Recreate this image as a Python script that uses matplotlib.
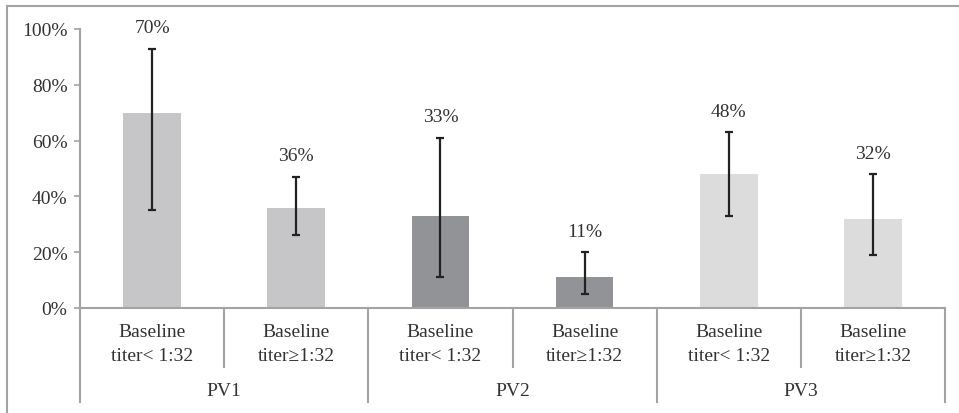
import matplotlib.pyplot as plt
from matplotlib.lines import Line2D
import matplotlib.transforms as mtransforms

plt.rcParams['font.family'] = ['Liberation Serif', 'DejaVu Serif']

# 数据
groups = ['PV1', 'PV2', 'PV3']
subgroups = ['Baseline\ntiter< 1:32', 'Baseline\ntiter≥1:32']
values = [70, 36, 33, 11, 48, 32]
err_low = [35, 26, 11, 5, 33, 19]
err_high = [93, 47, 61, 20, 63, 48]
group_colors = ['#c6c6c8', '#929396', '#dcdcdd']

text_color = '#333333'
line_color = '#a3a3a3'

fig = plt.figure(figsize=(9.59, 4.14), dpi=100)
ax = fig.add_axes([80 / 959, 105 / 414, 865 / 959, 279 / 414])

x = list(range(len(values)))
colors = [group_colors[i // 2] for i in x]
yerr = [[v - lo for v, lo in zip(values, err_low)],
        [hi - v for v, hi in zip(values, err_high)]]

ax.bar(x, values, width=0.4, color=colors, zorder=2)
ax.errorbar(x, values, yerr=yerr, fmt='none', ecolor='#222222',
            elinewidth=1.6, capsize=3, capthick=1.6, zorder=3)

# 数值标签
for xi, v, hi in zip(x, values, err_high):
    ax.annotate(f'{v}%', (xi, hi), xytext=(0, 9), textcoords='offset points',
                ha='center', va='bottom', fontsize=14, color=text_color)

ax.set_xlim(-0.5, len(values) - 0.5)
ax.set_ylim(0, 100)
ax.set_yticks([0, 20, 40, 60, 80, 100])
ax.set_yticklabels([f'{t}%' for t in [0, 20, 40, 60, 80, 100]])
ax.tick_params(axis='y', length=4, width=1.2, color=line_color, pad=5,
               labelsize=14, labelcolor=text_color)
ax.set_xticks([])

for s in ['top', 'right']:
    ax.spines[s].set_visible(False)
for s in ['left', 'bottom']:
    ax.spines[s].set_color(line_color)
    ax.spines[s].set_linewidth(1.5)

# 分类轴（两级）
trans = mtransforms.blended_transform_factory(ax.transData, ax.transAxes)
for i in range(len(values) + 1):
    bottom = -0.337 if i % 2 == 0 else -0.2115
    ax.add_line(Line2D([i - 0.5, i - 0.5], [0, bottom], transform=trans,
                       color=line_color, lw=1.5, clip_on=False))
for i in x:
    ax.text(i, -0.127, subgroups[i % 2], transform=trans, ha='center', va='center',
            fontsize=14, color=text_color, linespacing=1.6)
for g, name in enumerate(groups):
    ax.text(2 * g + 0.5, -0.294, name, transform=trans, ha='center', va='center',
            fontsize=14, color=text_color)

# 外框
fig.add_artist(Line2D([7 / 959, 1], [1 - 7 / 414, 1 - 7 / 414], transform=fig.transFigure,
                      color=line_color, lw=1.5))
fig.add_artist(Line2D([7 / 959, 7 / 959], [0, 1 - 7 / 414], transform=fig.transFigure,
                      color=line_color, lw=1.5))

plt.savefig('out.png', dpi=100)
